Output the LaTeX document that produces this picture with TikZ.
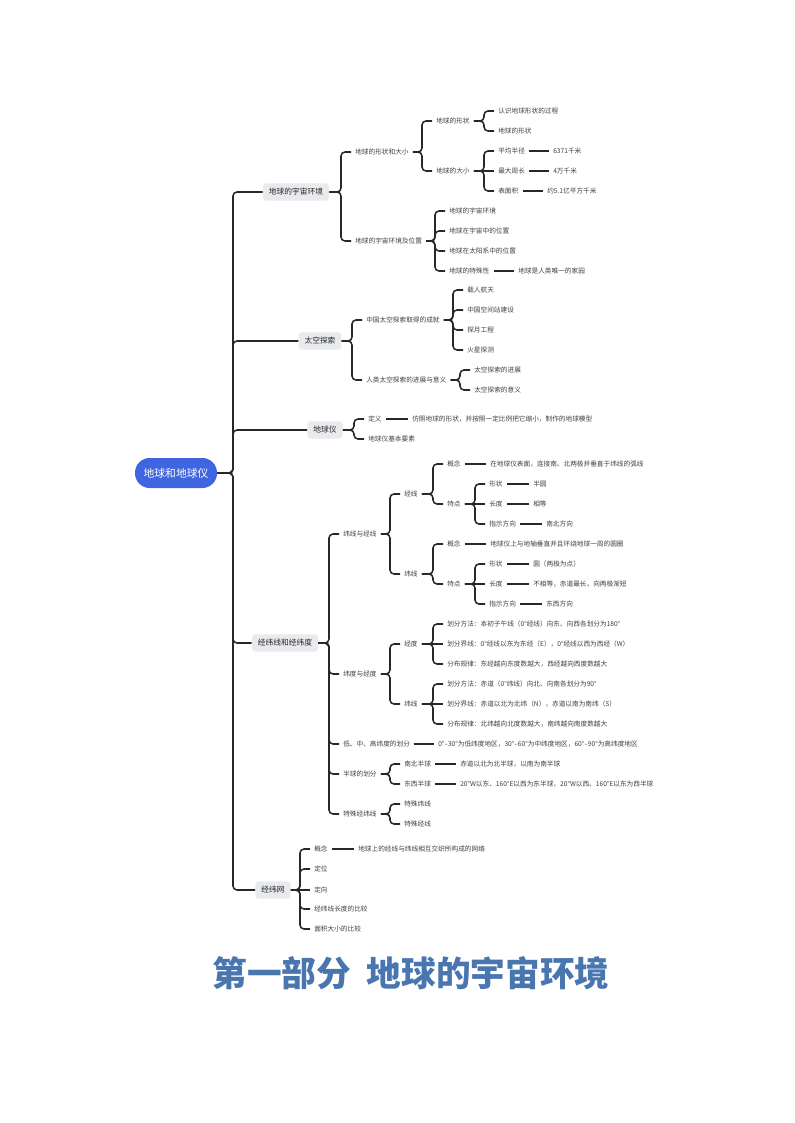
\documentclass[tikz,border=0pt]{standalone}
\usepackage{fontspec}
\newfontfamily\cjk{Noto Sans CJK SC}
\usetikzlibrary{calc}
\definecolor{rootblue}{RGB}{64,101,224}
\definecolor{boxgray}{RGB}{232,234,238}
\definecolor{txt}{RGB}{66,62,62}
\definecolor{ln}{RGB}{40,40,40}
\definecolor{titleblue}{RGB}{74,118,176}
\tikzset{
 rootnode/.style={fill=rootblue,text=white,rounded corners=11pt,minimum width=61.5pt,minimum height=22.5pt,inner sep=0pt,font=\cjk\fontsize{8.1}{10}\selectfont},
 lone/.style={fill=boxgray,rounded corners=2.5pt,inner xsep=4.5pt,inner ysep=0pt,minimum height=13pt,font=\cjk\fontsize{5.8}{7}\selectfont,text=black!85},
 lf/.style={anchor=west,inner xsep=3pt,inner ysep=1pt,font=\cjk\fontsize{5}{6}\selectfont,text=txt},
 conn/.style={draw=ln,line width=1.15pt,rounded corners=3pt},
 ttl/.style={font=\cjk\bfseries\fontsize{26}{30}\selectfont,text=titleblue},
}
\newcommand\ch[2]{\draw[conn] (#2.west) -- ++(-10,0) |- (#1.east);}
\newcommand\st[2]{\draw[conn] (#1.east) -- (#2.west);}
\begin{document}
\begin{tikzpicture}[x=0.75pt,y=-0.75pt]
\path[use as bounding box] (0,0) rectangle (794,1123);
% root and level 1
\node[rootnode] (root) at (176,473) {地球和地球仪};
\node[lone] (A) at (296,192) {地球的宇宙环境};
\node[lone] (B) at (320,341) {太空探索};
\node[lone] (C) at (325,430) {地球仪};
\node[lone] (D) at (285,643) {经纬线和经纬度};
\node[lone] (E) at (273,890) {经纬网};
\coordinate (tr) at (233,473);
\foreach \n in {A,B,C,D,E}{\draw[conn] (\n.west) -- (\n.west -| tr) |- (root.east);}
% A branch
\node[lf] (A1) at (351,152) {地球的形状和大小};
\node[lf] (A2) at (351,241) {地球的宇宙环境及位置};
\node[lf] (A11) at (432,121) {地球的形状};
\node[lf] (A12) at (432,171) {地球的大小};
\node[lf] (A111) at (494,111) {认识地球形状的过程};
\node[lf] (A112) at (494,131) {地球的形状};
\node[lf] (A121) at (494,151) {平均半径};
\node[lf] (A121v) at (549,151) {6371千米};
\node[lf] (A122) at (494,171) {最大周长};
\node[lf] (A122v) at (549,171) {4万千米};
\node[lf] (A123) at (494,191) {表面积};
\node[lf] (A123v) at (543,191) {约5.1亿平方千米};
\node[lf] (A21) at (445,211) {地球的宇宙环境};
\node[lf] (A22) at (445,231) {地球在宇宙中的位置};
\node[lf] (A23) at (445,251) {地球在太阳系中的位置};
\node[lf] (A24) at (445,271) {地球的特殊性};
\node[lf] (A24v) at (514,271) {地球是人类唯一的家园};
\ch{A}{A1}\ch{A}{A2}
\ch{A1}{A11}\ch{A1}{A12}
\ch{A11}{A111}\ch{A11}{A112}
\ch{A12}{A121}\st{A12}{A122}\ch{A12}{A123}
\st{A121}{A121v}\st{A122}{A122v}\st{A123}{A123v}
\ch{A2}{A21}\ch{A2}{A22}\ch{A2}{A23}\ch{A2}{A24}
\st{A24}{A24v}
% B branch
\node[lf] (B1) at (362,320) {中国太空探索取得的成就};
\node[lf] (B2) at (362,380) {人类太空探索的进展与意义};
\node[lf] (B11) at (463,290) {载人航天};
\node[lf] (B12) at (463,310) {中国空间站建设};
\node[lf] (B13) at (463,330) {探月工程};
\node[lf] (B14) at (463,350) {火星探测};
\node[lf] (B21) at (470,370) {太空探索的进展};
\node[lf] (B22) at (470,390) {太空探索的意义};
\ch{B}{B1}\ch{B}{B2}
\ch{B1}{B11}\ch{B1}{B12}\ch{B1}{B13}\ch{B1}{B14}
\ch{B2}{B21}\ch{B2}{B22}
% C branch
\node[lf] (C1) at (364,419) {定义};
\node[lf] (C1v) at (408,419) {仿照地球的形状，并按照一定比例把它缩小，制作的地球模型};
\node[lf] (C2) at (364,439) {地球仪基本要素};
\ch{C}{C1}\ch{C}{C2}\st{C1}{C1v}
% D branch
\node[lf] (D1) at (339,534) {纬线与经线};
\node[lf] (D2) at (339,674) {纬度与经度};
\node[lf] (D3) at (339,744) {低、中、高纬度的划分};
\node[lf] (D3v) at (434,744) {0°–30°为低纬度地区，30°–60°为中纬度地区，60°–90°为高纬度地区};
\node[lf] (D4) at (339,774) {半球的划分};
\node[lf] (D5) at (339,814) {特殊经纬线};
\ch{D}{D1}\ch{D}{D2}\ch{D}{D3}\ch{D}{D4}\ch{D}{D5}
\st{D3}{D3v}
\node[lf] (D11) at (400,494) {经线};
\node[lf] (D12) at (400,574) {纬线};
\ch{D1}{D11}\ch{D1}{D12}
\node[lf] (D111) at (443,464) {概念};
\node[lf] (D111v) at (486,464) {在地球仪表面，连接南、北两极并垂直于纬线的弧线};
\node[lf] (D112) at (443,504) {特点};
\node[lf] (D1121) at (485,484) {形状};
\node[lf] (D1121v) at (529,484) {半圆};
\node[lf] (D1122) at (485,504) {长度};
\node[lf] (D1122v) at (529,504) {相等};
\node[lf] (D1123) at (485,524) {指示方向};
\node[lf] (D1123v) at (542,524) {南北方向};
\ch{D11}{D111}\ch{D11}{D112}\st{D111}{D111v}
\ch{D112}{D1121}\st{D112}{D1122}\ch{D112}{D1123}
\st{D1121}{D1121v}\st{D1122}{D1122v}\st{D1123}{D1123v}
\node[lf] (D121) at (443,544) {概念};
\node[lf] (D121v) at (486,544) {地球仪上与地轴垂直并且环绕地球一周的圆圈};
\node[lf] (D122) at (443,584) {特点};
\node[lf] (D1221) at (485,564) {形状};
\node[lf] (D1221v) at (529,564) {圆（两极为点）};
\node[lf] (D1222) at (485,584) {长度};
\node[lf] (D1222v) at (529,584) {不相等，赤道最长，向两极渐短};
\node[lf] (D1223) at (485,604) {指示方向};
\node[lf] (D1223v) at (542,604) {东西方向};
\ch{D12}{D121}\ch{D12}{D122}\st{D121}{D121v}
\ch{D122}{D1221}\st{D122}{D1222}\ch{D122}{D1223}
\st{D1221}{D1221v}\st{D1222}{D1222v}\st{D1223}{D1223v}
\node[lf] (D21) at (400,644) {经度};
\node[lf] (D22) at (400,704) {纬线};
\ch{D2}{D21}\ch{D2}{D22}
\node[lf] (D211) at (443,624) {划分方法：本初子午线（0°经线）向东、向西各划分为180°};
\node[lf] (D212) at (443,644) {划分界线：0°经线以东为东经（E），0°经线以西为西经（W）};
\node[lf] (D213) at (443,664) {分布规律：东经越向东度数越大，西经越向西度数越大};
\node[lf] (D221) at (443,684) {划分方法：赤道（0°纬线）向北、向南各划分为90°};
\node[lf] (D222) at (443,704) {划分界线：赤道以北为北纬（N），赤道以南为南纬（S）};
\node[lf] (D223) at (443,724) {分布规律：北纬越向北度数越大，南纬越向南度数越大};
\ch{D21}{D211}\st{D21}{D212}\ch{D21}{D213}
\ch{D22}{D221}\st{D22}{D222}\ch{D22}{D223}
\node[lf] (D41) at (400,764) {南北半球};
\node[lf] (D41v) at (456,764) {赤道以北为北半球，以南为南半球};
\node[lf] (D42) at (400,784) {东西半球};
\node[lf] (D42v) at (456,784) {20°W以东、160°E以西为东半球，20°W以西、160°E以东为西半球};
\ch{D4}{D41}\ch{D4}{D42}\st{D41}{D41v}\st{D42}{D42v}
\node[lf] (D51) at (400,804) {特殊纬线};
\node[lf] (D52) at (400,824) {特殊经线};
\ch{D5}{D51}\ch{D5}{D52}
% E branch
\node[lf] (E1) at (310,849) {概念};
\node[lf] (E1v) at (354,849) {地球上的经线与纬线相互交织所构成的网络};
\node[lf] (E2) at (310,869) {定位};
\node[lf] (E3) at (310,890) {定向};
\node[lf] (E4) at (310,909) {经纬线长度的比较};
\node[lf] (E5) at (310,929) {面积大小的比较};
\ch{E}{E1}\ch{E}{E2}\st{E}{E3}\ch{E}{E4}\ch{E}{E5}
\st{E1}{E1v}
% title
\node[ttl] (title) at (411,973) {第一部分\hspace{0.45em}地球的宇宙环境};
\end{tikzpicture}
\end{document}
